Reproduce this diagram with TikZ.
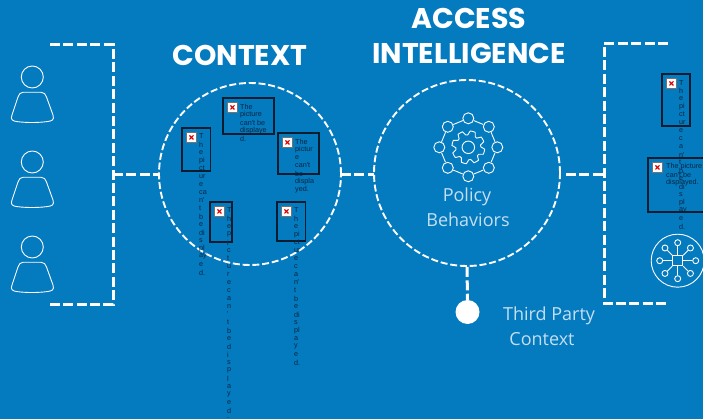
\documentclass[tikz,border=0pt]{standalone}
\usepackage{fontspec}
\setmainfont{Open Sans}
\newfontfamily\titlefont{Poppins}
\newfontfamily\smallfont{Liberation Sans}
\usetikzlibrary{calc}
\definecolor{bgblue}{HTML}{047ABF}
\definecolor{inkdark}{HTML}{05263F}
\definecolor{boxline}{HTML}{021C30}
\definecolor{softwhite}{HTML}{C4DFF2}
\tikzset{
  dashline/.style={draw=white,line width=3pt,dash pattern=on 10pt off 3.4pt},
  ringline/.style={draw=white,line width=1.9pt,dash pattern=on 7pt off 2.8pt},
  iconline/.style={draw=white,line width=.9pt},
  titletext/.style={text=white,font=\titlefont\bfseries\fontsize{28.5}{28.5}\selectfont,inner sep=0pt},
  softtext/.style={text=softwhite,font=\fontsize{18}{18}\selectfont,inner sep=0pt},
  picbox/.style={draw=boxline,line width=1.1pt},
  brokenimg/.style={draw=black!55,fill=white,line width=.8pt,minimum width=10pt,minimum height=10pt,inner sep=0pt},
  alttext/.style={text=inkdark,font=\smallfont\fontsize{7.2}{8}\selectfont,inner sep=0pt,anchor=west},
}
\newcommand{\brokenicon}[3]{%
  \node[brokenimg,anchor=north west] (#1) at (#2,#3) {};
  \draw[red!85!black,line width=1.1pt] ($(#1.center)+(-2,-2)$) -- ($(#1.center)+(2,2)$)
     ($(#1.center)+(-2,2)$) -- ($(#1.center)+(2,-2)$);
}
\newcommand{\altlines}[4]{%
  \foreach \w [count=\i from 0] in {#4} {%
    \pgfmathsetmacro{\yp}{#3+8*\i}%
    \node[alttext] (#1-\i) at (#2,\yp) {\w};
  }%
}
\newcommand{\personicon}[2]{%
  \node[draw=white,line width=.9pt,circle,minimum size=22pt,inner sep=0pt] (head#1) at (32.3,77+#2) {};
  \draw[iconline] (23,92.3+#2) -- (41,92.3+#2)
    .. controls (44,92.3+#2) and (45.5,94+#2) .. (46.5,97+#2)
    -- (53,115+#2)
    .. controls (54.5,120+#2) and (52,121+#2) .. (47,121.6+#2)
    .. controls (38,122.8+#2) and (26,122.8+#2) .. (17,121.6+#2)
    .. controls (13,121+#2) and (10,120+#2) .. (12,115+#2)
    -- (18,97+#2)
    .. controls (19,94+#2) and (20.5,92.3+#2) .. (23,92.3+#2) -- cycle;
}
\begin{document}
\begin{tikzpicture}[x=1pt,y=-1pt]
\useasboundingbox (0,0) rectangle (703,419);
\fill[bgblue] (0,0) rectangle (703,419);

% rings
\node[circle,minimum size=182pt,inner sep=0pt,ringline] (ctx) at (250,174) {};
\node[circle,minimum size=186pt,inner sep=0pt,ringline] (acc) at (467,173) {};

% brackets and links
\coordinate (lt) at (50,45); \coordinate (lc) at (113,45); \coordinate (lc2) at (113,304); \coordinate (lb) at (50,304);
\coordinate (lm) at (113,175);
\draw[dashline] (lt) -- (lc) -- (lc2) -- (lb);
\draw[dashline] (lm) -- (158,175);
\draw[dashline] (341,175) -- (374,175);
\coordinate (rt) at (668,44); \coordinate (rc) at (604,44); \coordinate (rc2) at (604,303); \coordinate (rb) at (668,303);
\coordinate (rm) at (604,175);
\draw[dashline] (rt) -- (rc) -- (rc2) -- (rb);
\draw[dashline] (566,175) -- (rm);

% third party
\node[circle,fill=white,minimum size=24pt,inner sep=0pt] (dot) at (467.5,312) {};
\draw[dashline] (acc.south) -- (dot.north);

% titles
\node[titletext] (ctxt) at (240,55) {CONTEXT};
\node[titletext] (acc1) at (469,18) {ACCESS};
\node[titletext] (acc2) at (469,53) {INTELLIGENCE};
\node[softtext] (pol) at (467,197) {Policy};
\node[softtext] (beh) at (468,220) {Behaviors};
\node[softtext] (tp) at (549,316) {Third Party};
\node[softtext] (tc) at (542,339) {Context};

% people
\personicon{a}{0}
\personicon{b}{85}
\personicon{c}{170}

% policy icon
\foreach \a [count=\i] in {0,45,...,315} {
  \node[draw=white,line width=.9pt,circle,minimum size=11pt,inner sep=0pt] (pn\i) at ($(468.3,147.3)+(\a:29)$) {};
}
\foreach \i/\j in {1/2,2/3,3/4,4/5,5/6,6/7,7/8,8/1} { \draw[iconline] (pn\i) -- (pn\j); }
\node[draw=white,line width=.9pt,circle,minimum size=12.5pt,inner sep=0pt] (gearhub) at (468.3,147.3) {};
\draw[iconline,line join=round] plot[samples at={0,...,39},shift={(468.3,147.3)}]
  ({(mod(\x,5)<2.5?16.5:12.5)*cos(9*\x+11.25-4.5)},{(mod(\x,5)<2.5?16.5:12.5)*sin(9*\x+11.25-4.5)}) -- cycle;

% hub icon
\node[draw=white,line width=.9pt,circle,minimum size=53pt,inner sep=0pt] (hubring) at (677.7,260.7) {};
\node[draw=white,line width=.9pt,minimum size=10pt,inner sep=0pt] (hubsq) at (677.7,260.7) {};
\foreach \a [count=\i] in {0,45,...,315} {
  \node[draw=white,line width=.9pt,circle,minimum size=6pt,inner sep=0pt] (hn\i) at ($(677.7,260.7)+(\a:18)$) {};
  \draw[iconline] (hubsq) -- (hn\i);
}

% picture boxes
\draw[picbox] (182,128) rectangle (210.5,171);
\brokenicon{ia}{186}{132}
\altlines{ta}{199}{136.5}{T,h,e,pi,ct,ur,e,ca,n',t,b,e,di,s,pl,ay,e,d.}

\draw[picbox] (223,98) rectangle (274,134);
\brokenicon{ib}{227}{102}
\altlines{tb}{240}{106.5}{The,picture,can't be,displaye,d.}

\draw[picbox] (278,133) rectangle (319,174);
\brokenicon{ic}{282}{137}
\altlines{tc}{295}{141.5}{The,pictur,e,can't,be,displa,yed.}

\draw[picbox] (210,202) rectangle (232,242);
\brokenicon{id}{214}{206}
\altlines{td}{227}{210.5}{T,h,e,p,i,c,t,u,r,e,c,a,n,',t,b,e,d,i,s,p,l,a,y,e,d,.}

\draw[picbox] (277,202) rectangle (305.5,241);
\brokenicon{ie}{281}{206}
\altlines{te}{294}{210.5}{T,h,e,pi,ct,ur,e,c,a,n',t,b,e,di,s,pl,a,y,e,d.}

\draw[picbox] (662,74) rectangle (690,126);
\brokenicon{if}{666}{78}
\altlines{tf}{679}{82.7}{T,h,e,pi,ct,ur,e,c,a,n',t,b,e,di,s,pl,ay,e,d.}

\draw[picbox] (648,158) rectangle (705,212);
\brokenicon{ig}{652}{162}
\altlines{tg}{666}{166.5}{The picture,can't be,displayed.}
\end{tikzpicture}
\end{document}
